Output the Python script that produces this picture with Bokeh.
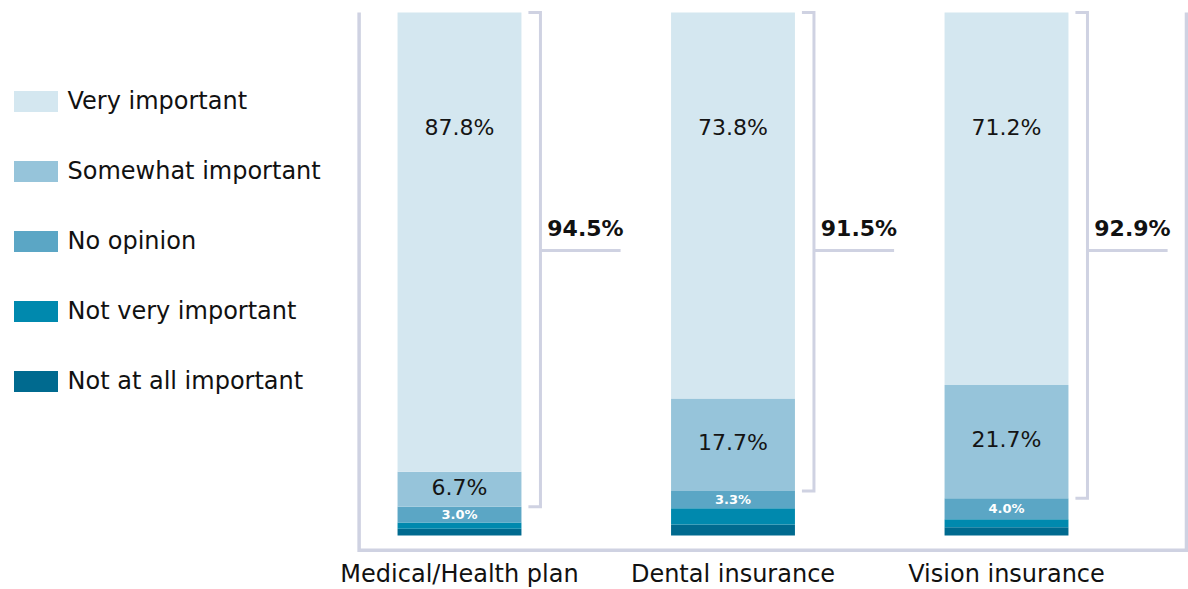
import numpy as np
from bokeh.plotting import figure
from bokeh.models import ColumnDataSource, Range1d, Legend, LegendItem
from bokeh.core.properties import value
from bokeh.embed import file_html
from bokeh.resources import INLINE

# ---------------- data ----------------
categories = ["Medical/Health plan", "Dental insurance", "Vision insurance"]
very_important = [87.8, 73.8, 71.2]
somewhat_important = [6.7, 17.7, 21.7]
no_opinion = [3.0, 3.3, 4.0]
not_very_important = [1.2, 3.1, 1.5]
not_at_all_important = [1.3, 2.1, 1.6]
important_total = [94.5, 91.5, 92.9]

series_names = ["Not at all important", "Not very important", "No opinion",
                "Somewhat important", "Very important"]
series_keys = ["not_at_all", "not_very", "no_opinion", "somewhat", "very"]
series_colors = ["#006a8f", "#0089ae", "#5ba6c5", "#96c4da", "#d4e7f0"]

# ---------------- layout / style ----------------
FONT = "DejaVu Sans"
LINE_COLOR = "#cfd2e2"
BAR_W = 0.453
VERY_LABEL_Y = 78.0
BRACKET_OFF = 0.296
TICK_LEN = 0.044
STUB_LEN = 0.293
STUB_Y = 54.5
FRAME_L, FRAME_R, FRAME_B = -0.367, 2.658, -2.83
CAT_Y = -7.4

idx = np.arange(len(categories), dtype=float)

src = ColumnDataSource(dict(
    x=idx,
    not_at_all=not_at_all_important,
    not_very=not_very_important,
    no_opinion=no_opinion,
    somewhat=somewhat_important,
    very=very_important,
))

p = figure(width=1188, height=589,
           x_range=Range1d(-1.6782, 2.6654), y_range=Range1d(-10.325, 102.294),
           output_backend="svg", toolbar_location=None,
           x_axis_location=None, y_axis_location=None,
           min_border=0, outline_line_color=None)
p.grid.grid_line_color = None
p.background_fill_color = "white"
p.border_fill_color = "white"

# frame lines (left, bottom, right)
p.line([FRAME_L, FRAME_L, FRAME_R, FRAME_R], [100, FRAME_B, FRAME_B, 100],
       line_color=LINE_COLOR, line_width=3.5, line_join="miter")

renderers = p.vbar_stack(series_keys, x="x", width=BAR_W, color=series_colors,
                         source=src, line_width=0)

# cumulative values
na = np.array(not_at_all_important)
nv = np.array(not_very_important)
no = np.array(no_opinion)
sw = np.array(somewhat_important)
vi = np.array(very_important)
tot = np.array(important_total)

fmt = lambda arr: [f"{v:.1f}%" for v in arr]

# very important labels
p.text(x=idx, y=[VERY_LABEL_Y] * len(idx), text=fmt(vi), text_align="center",
       text_baseline="middle", text_font=value(FONT), text_font_size="22px",
       text_color="#141414")
# somewhat labels
p.text(x=idx, y=na + nv + no + sw / 2, text=fmt(sw), text_align="center",
       text_baseline="middle", y_offset=-2, text_font=value(FONT), text_font_size="22px",
       text_color="#141414")
# no opinion labels
p.text(x=idx, y=na + nv + no / 2, text=fmt(no), text_align="center",
       text_baseline="middle", text_font=value(FONT), text_font_size="13px",
       text_font_style="bold", text_color="white")

# brackets
bx = idx + BRACKET_OFF
bottoms = 100 - tot
xs = [[b - TICK_LEN, b, b, b - TICK_LEN] for b in bx]
ys = [[100, 100, bt, bt] for bt in bottoms]
p.multi_line(xs, ys, line_color=LINE_COLOR, line_width=3, line_join="miter")
p.segment(x0=bx, y0=[STUB_Y] * len(bx), x1=bx + STUB_LEN, y1=[STUB_Y] * len(bx),
          line_color=LINE_COLOR, line_width=3)
p.text(x=bx + 0.025, y=[STUB_Y] * len(bx), text=fmt(tot), text_align="left",
       text_baseline="alphabetic", y_offset=-22, text_font=value(FONT),
       text_font_size="22px", text_font_style="bold", text_color="#111111")

# category labels
p.text(x=idx, y=[CAT_Y] * len(idx), text=categories, text_align="center",
       text_baseline="alphabetic", text_font=value(FONT), text_font_size="24px",
       text_color="#111111")

# legend
items = [LegendItem(label=n, renderers=[r]) for n, r in zip(series_names, renderers)][::-1]
legend = Legend(items=items, location=(7.5, 194), orientation="vertical",
                glyph_width=55, glyph_height=26, label_height=28,
                label_standoff=5, spacing=42, padding=0, margin=0,
                border_line_color=None, background_fill_alpha=0,
                label_text_font=FONT, label_text_font_size="24px",
                label_text_color="#111111")
p.add_layout(legend, "center")

open("out.html", "w").write(file_html(p, INLINE))
